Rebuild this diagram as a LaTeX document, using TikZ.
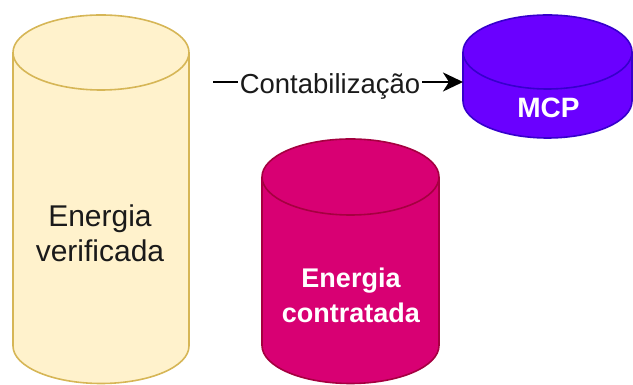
\documentclass[tikz,border=0pt]{standalone}
\usepackage{fontspec}
\setmainfont{Liberation Sans}
\usetikzlibrary{arrows.meta}
\definecolor{yfill}{HTML}{FFF2CC}
\definecolor{ydraw}{HTML}{D6B656}
\definecolor{mfill}{HTML}{D80073}
\definecolor{mdraw}{HTML}{A50040}
\definecolor{pfill}{HTML}{6A00FF}
\definecolor{pdraw}{HTML}{3700CC}
\definecolor{txt}{HTML}{1A1A1A}
\newcommand{\drawcyl}[6]{%
  \pgfmathsetmacro\cylrx{(#2-#1)/2}%
  \path[#6] (#1,#3) -- (#1,#4) arc[start angle=180,end angle=360,x radius=\cylrx,y radius=#5]
     -- (#2,#3) arc[start angle=0,end angle=180,x radius=\cylrx,y radius=#5] -- cycle;
  \draw[#6,fill=none] (#1,#3) arc[start angle=180,end angle=360,x radius=\cylrx,y radius=#5];
}
\tikzset{
  cylbox/.style={inner sep=0pt, outer sep=0pt, draw=none},
  ystyle/.style={fill=yfill, draw=ydraw, line width=1.6pt},
  mstyle/.style={fill=mfill, draw=mdraw, line width=1.6pt},
  pstyle/.style={fill=pfill, draw=pdraw, line width=1.6pt},
  conn/.style={line width=2.5pt, -{Stealth[length=20pt,width=19pt,inset=6pt]}},
}
\begin{document}
\begin{tikzpicture}[x=1pt,y=1pt]
\useasboundingbox (0,0) rectangle (633,385);
% cylinder shapes
\drawcyl{13}{189}{332.5}{39}{37.5}{ystyle}
\drawcyl{262}{439}{208}{39.5}{38}{mstyle}
\drawcyl{463}{632}{333}{284}{37}{pstyle}
% named boxes
\node[cylbox, minimum width=176pt, minimum height=369pt] (ver) at (101,186) {};
\node[cylbox, minimum width=177pt, minimum height=245pt] (con) at (350.5,123.5) {};
\node[cylbox, minimum width=169pt, minimum height=123pt] (mcp) at (547.5,308.5) {};
% texts
\node[align=center, text=txt, font=\fontsize{30}{35}\selectfont, inner sep=0pt] (vert) at (100,151.5) {Energia\\verificada};
\node[align=center, text=white, font=\fontsize{27}{35}\selectfont\bfseries, inner sep=0pt] (cont) at (351,89.2) {Energia\\contratada};
\node[anchor=base, text=white, font=\fontsize{28}{34}\selectfont\bfseries, inner sep=0pt] (mcpt) at (548.5,267) {MCP};
% connector
\coordinate (src) at (213,303);
\draw[conn] (src) -- (mcp.west |- src)
  node[pos=0.468, anchor=base, yshift=-11.6pt, fill=white, inner xsep=1.5pt, inner ysep=1pt, text=txt, font=\fontsize{27.5}{33}\selectfont] (lbl) {Contabilização};
\end{tikzpicture}
\end{document}
